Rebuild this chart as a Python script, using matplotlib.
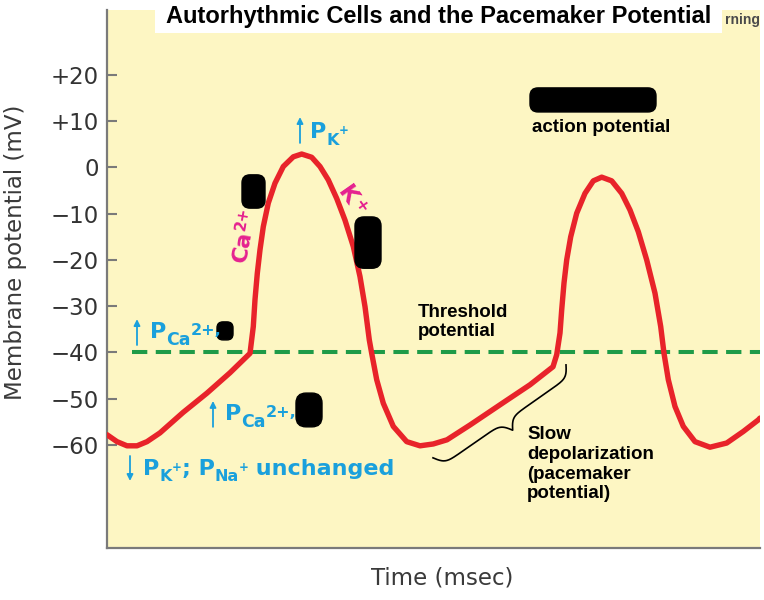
import numpy as np
import matplotlib
matplotlib.use('Agg')
import matplotlib.pyplot as plt
from matplotlib.patches import Rectangle, FancyBboxPatch
from matplotlib.transforms import IdentityTransform

plt.rcParams['font.family'] = ['DejaVu Sans']

# membrane potential trace (time in arbitrary msec units)
time_ms = [0, 10, 20, 30, 40, 53, 76, 100, 123, 143,
           146.3, 148, 150.3, 153, 156.3, 161.3, 168, 176.3, 186.3, 194.7, 204.7,
           213, 221.3, 229.7, 238, 246.3, 253, 258, 262.3, 264.7, 269.7, 276.3,
           286.3, 299.7, 313, 326.3, 340, 363, 396, 423, 446, 449.7,
           453, 454.7, 457, 459.7, 463.7, 469.7, 478, 486.3, 494.7, 504.7, 514.7,
           523, 531.3, 539.7, 548, 553.7, 557, 561.3, 568, 576.3, 588, 603,
           619.7, 636.3, 651.3, 653]
vm_mv = [-57.8, -59.3, -60.2, -60.2, -59.3, -57.4, -53.0, -48.8, -44.4, -40.2,
         -34.4, -28.6, -22.9, -17.8, -12.8, -7.7, -3.4, 0.2, 2.3, 2.9, 2.2,
         0.2, -2.7, -6.7, -11.4, -17.1, -23.6, -30.1, -37.3, -40.2, -45.9, -51.0,
         -56.0, -59.3, -60.2, -59.8, -58.9, -55.7, -50.9, -47.0, -43.1, -40.5,
         -35.8, -30.8, -25.0, -20.0, -15.0, -9.9, -5.6, -2.9, -2.1, -2.9, -5.6,
         -9.2, -13.9, -20.0, -27.2, -34.4, -40.2, -45.9, -51.7, -56.0, -59.3, -60.5,
         -59.6, -57.1, -54.6, -54.2]
threshold_mv = -40
threshold_start = 25

yticks = [20, 10, 0, -10, -20, -30, -40, -50, -60]
ytick_labels = ['+20', '+10', '0', '\u221210', '\u221220', '\u221230',
                '\u221240', '\u221250', '\u221260']

yellow = '#FDF6C3'
red = '#E8232A'
cyan = '#1AA0DC'
magenta = '#E5218F'
green = '#1E9B48'

fig = plt.figure(figsize=(7.64, 6), dpi=100)
ax = fig.add_axes([107 / 764, 1 - 548 / 600, 653 / 764, 538 / 600])
ax.set_facecolor(yellow)
ax.set_xlim(0, 653)
ax.set_ylim(-82.3, 34.05)

for s in ['top', 'right']:
    ax.spines[s].set_visible(False)
for s in ['left', 'bottom']:
    ax.spines[s].set_color('#7a7a7a')
    ax.spines[s].set_linewidth(1.6)

ax.set_xticks([])
ax.set_yticks(yticks)
ax.set_yticklabels(ytick_labels)
ax.tick_params(axis='y', direction='in', length=7, width=1.5, color='#7a7a7a',
               labelsize=16.5, labelcolor='#333333', pad=6)

# threshold and trace
ax.plot([threshold_start, 653], [threshold_mv, threshold_mv], color=green, lw=2.9,
        dashes=(3.8, 2.1), solid_capstyle='butt', zorder=2)
ax.plot(time_ms, vm_mv, color=red, lw=3.9, solid_joinstyle='round',
        solid_capstyle='round', zorder=3)

renderer = fig.canvas.get_renderer()


def rich(x, y, pieces, color, angle=0.0, center=False):
    # draw bold text pieces one after another: (text, size, rise in px)
    x0, y0 = ax.transData.transform((x, y))
    a = np.deg2rad(angle)
    u = np.array([np.cos(a), np.sin(a)])
    n = np.array([-np.sin(a), np.cos(a)])
    widths = []
    for s, size, rise in pieces:
        tmp = fig.text(0, 0, s, fontsize=size, fontweight='bold')
        widths.append(tmp.get_window_extent(renderer).width)
        tmp.remove()
    start = np.array([x0, y0])
    if center:
        start = start - u * sum(widths) / 2 - n * 0.36 * pieces[0][1] * 100 / 72
    adv = 0
    for (s, size, rise), w in zip(pieces, widths):
        p = start + u * adv + n * rise
        fig.text(p[0], p[1], s, transform=IdentityTransform(), fontsize=size,
                 fontweight='bold', color=color, rotation=angle,
                 rotation_mode='anchor', ha='left', va='baseline', zorder=4)
        adv += w


def arrow(x, y0, y1):
    ax.annotate('', xy=(x, y1), xytext=(x, y0),
                arrowprops=dict(arrowstyle='-|>', color=cyan, lw=1.3,
                                mutation_scale=9, shrinkA=0, shrinkB=0))


# cyan permeability notes
arrow(193, 5.3, 10.9)
rich(203, 6.3, [('P', 16, 0), ('K', 11.5, -6.5), ('+', 8.5, 4)], cyan)
arrow(30, -38.4, -32.8)
rich(43, -36.9, [('P', 16, 0), ('Ca', 12.5, -6.7), ('2+,', 11.5, 3.3)], cyan)
arrow(106, -56.1, -50.5)
rich(118, -54.6, [('P', 16, 0), ('Ca', 12.5, -6.7), ('2+,', 11.5, 3.3)], cyan)
arrow(23, -62.4, -67.8)
rich(36, -66.5, [('P', 16, 0), ('K', 11.5, -6.5), ('+', 8.5, 4), ('; P', 16, 0),
                 ('Na', 11.5, -6.5), ('+', 8.5, 4), (' unchanged', 16, 0)], cyan)

# magenta ion labels along the upstroke and repolarisation
rich(136, -14.5, [('Ca', 16, 0), ('2+', 11, 6.5)], magenta, angle=80, center=True)
rich(246, -7.0, [('K', 16.5, 0), ('+', 11.5, 6.5)], magenta, angle=-55, center=True)

# black text
ax.text(425, 8.7, 'action potential', fontsize=13.5, fontweight='bold', va='center',
        family='Liberation Sans')
ax.text(311, -29.5, 'Threshold\npotential', fontsize=13.5, fontweight='bold',
        va='top', linespacing=1.15, family='Liberation Sans')
ax.text(420, -56.0, 'Slow\ndepolarization\n(pacemaker\npotential)', fontsize=13.5,
        fontweight='bold', va='top', linespacing=1.2, family='Liberation Sans')

# redaction blobs
asp = 1 / 4.625
for (x0, y0, w, h, r) in [(135, -8.8, 23, 7.2, 8), (248, -21.8, 26, 11.1, 9),
                          (110, -37.3, 16, 3.9, 6), (189, -56.1, 26, 7.3, 10),
                          (423, 12.0, 126, 5.2, 8)]:
    ax.add_patch(FancyBboxPatch((x0, y0), w, h, boxstyle='round,pad=0,rounding_size=%d' % r,
                                mutation_aspect=asp, fc='black', ec='black', zorder=5))


# curly brace under the pacemaker ramp
def brace(p0, p1, depth):
    d0 = ax.transData.transform(p0)
    d1 = ax.transData.transform(p1)
    v = d1 - d0
    L = np.hypot(*v)
    u = v / L
    n = np.array([u[1], -u[0]])
    s = np.linspace(0, 1, 401)
    half = s[:201]
    beta = 45
    yh = 1 / (1 + np.exp(-beta * (half - half[0]))) + 1 / (1 + np.exp(-beta * (half - half[-1])))
    yy = np.concatenate((yh, yh[-2::-1])) - 0.5
    pts = d0 + np.outer(s * L, u) + np.outer(yy * depth, n)
    return ax.transData.inverted().transform(pts)


bp = brace((326, -62.8), (459, -42.7), 23)
ax.plot(bp[:, 0], bp[:, 1], color='black', lw=1.2, zorder=4)

# title box and labels
fig.patches.append(Rectangle((155 / 764, 1 - 33 / 600), 567 / 764, 33 / 600,
                             transform=fig.transFigure, fc='white', ec='none', zorder=5))
fig.text(438.5 / 764, 1 - 17 / 600, 'Autorhythmic Cells and the Pacemaker Potential',
         fontsize=17, fontweight='bold', ha='center', va='center', zorder=6,
         family='Liberation Sans')
fig.text(725 / 764, 1 - 20 / 600, 'rning', fontsize=10, fontweight='bold',
         color='#4a4a4a', ha='left', va='center', family='Liberation Sans')
fig.text(16 / 764, 1 - 252 / 600, 'Membrane potential (mV)', fontsize=16.5,
         color='#3a3a3a', rotation=90, ha='center', va='center')
fig.text(442 / 764, 1 - 578 / 600, 'Time (msec)', fontsize=16.5, color='#3a3a3a',
         ha='center', va='center')

fig.savefig('out.png', dpi=100)
